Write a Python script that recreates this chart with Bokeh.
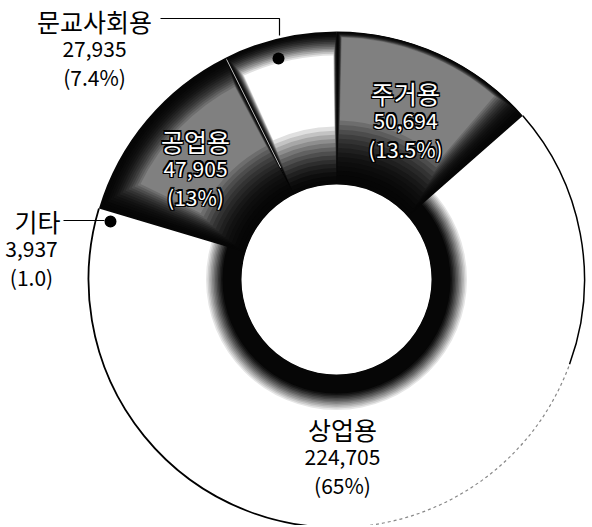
import math
from bokeh.plotting import figure
from bokeh.models import Range1d
from bokeh.core.properties import value
from bokeh.embed import file_html
from bokeh.resources import INLINE

# ---- data ----
categories = ["주거용", "문교사회용", "공업용", "기타", "상업용"]
values = [50694, 27935, 47905, 3937, 224705]
pcts = [13.5, 7.4, 13.0, 1.0, 65.0]
pct_labels = ["(13.5%)", "(7.4%)", "(13%)", "(1.0)", "(65%)"]

W, H = 590, 525
PH = 527  # data y = PH - picture y


def Y(py):
    return PH - py


def rad(d):
    return math.radians(d)


p = figure(width=W, height=H, output_backend="svg", toolbar_location=None,
           x_range=Range1d(0, W), y_range=Range1d(PH - H, PH),
           x_axis_location=None, y_axis_location=None, min_border=0,
           background_fill_color="white", border_fill_color="white")
p.outline_line_color = None
p.xgrid.visible = False
p.ygrid.visible = False

CX, CY = 336, Y(279)
R_IN, R_OUT = 95, 248
START = 41.3

# angles from percentages
angles = []
a = START
for pc in pcts:
    span = pc / 100.0 * 360.0
    angles.append((a, a + span))
    a += span

FONT = value("Noto Sans CJK KR")


def mix(c1, c2, t):
    return "#%02x%02x%02x" % tuple(int(round(c1[i] + (c2[i] - c1[i]) * t)) for i in range(3))


BLACK = (6, 6, 6)
WHITE = (255, 255, 255)
GRAY = (128, 128, 128)

# base white for 상업용 / 기타
for i in (3, 4):
    a0, a1 = angles[i]
    p.annular_wedge(x=CX, y=CY, inner_radius=R_IN, outer_radius=R_OUT,
                    inner_radius_units="screen", outer_radius_units="screen",
                    start_angle=rad(a0), end_angle=rad(a1),
                    fill_color="white", line_color=None)

# dark ring around the hole (gradient outward)
N = 12
for k in range(N, -1, -1):
    t = k / N
    rr = 114 + t * 18
    col = mix(BLACK, WHITE, t ** 1.2)
    p.annulus(x=CX, y=CY, inner_radius=R_IN, outer_radius=rr,
              inner_radius_units="screen", outer_radius_units="screen",
              fill_color=col, line_color=None)

# shaded segments: target colour, inner inset, outer inset, inset at start side, inset at end side
shade = {0: (GRAY, 64, 6, 28, 4),
         1: (WHITE, 58, 24, 3, 7),
         2: (GRAY, 56, 30, 4, 30)}
NL = 14
for i, (target, ins_in, ins_out, ins_s, ins_e) in shade.items():
    a0, a1 = angles[i]
    expo = 1.8 if target == WHITE else 2.3
    for k in range(NL + 1):
        t = k / NL
        ri = R_IN + t * ins_in
        ro = R_OUT - t * ins_out
        rm = (ri + ro) / 2
        da0 = math.degrees(t * ins_s / rm)
        da1 = math.degrees(t * ins_e / rm)
        col = mix(BLACK, target, t ** expo)
        p.annular_wedge(x=CX, y=CY, inner_radius=ri, outer_radius=ro,
                        inner_radius_units="screen", outer_radius_units="screen",
                        start_angle=rad(a0 + da0), end_angle=rad(a1 - da1),
                        fill_color=col, line_color=None)

# faint boundary line between 문교사회용 and 공업용
ab = rad(angles[1][1])
p.line(x=[CX + 125 * math.cos(ab), CX + 246 * math.cos(ab)],
       y=[CY + 125 * math.sin(ab), CY + 246 * math.sin(ab)],
       line_color="#b8b8b8", line_width=1)

# outer outline
p.arc(x=CX, y=CY, radius=R_OUT, radius_units="screen", start_angle=rad(angles[2][1]),
      end_angle=rad(275), line_color="black", line_width=1.8)
p.arc(x=CX, y=CY, radius=R_OUT, radius_units="screen", start_angle=rad(275),
      end_angle=rad(340), line_color="#888888", line_width=1.2, line_dash="3 3")
p.arc(x=CX, y=CY, radius=R_OUT, radius_units="screen", start_angle=rad(340),
      end_angle=rad(angles[0][0] + 360), line_color="black", line_width=1.5)

# hole
p.circle(x=CX, y=CY, radius=R_IN, radius_units="screen", fill_color="white", line_color=None)

# ---- labels ----
val_labels = [f"{v:,}" for v in values]
label_pos = {0: (405, 92, "white"), 2: (195, 140, "white"),
             4: (342, 428, "black"), 1: (94, 20, "black"), 3: (37, 220, "black")}
LS = 28


def draw_text(x, y, s, color, size="22px", align="center"):
    if color == "white":
        for dx, dy in [(-1, 0), (1, 0), (0, -1), (0, 1), (-1, -1), (1, 1), (-1, 1), (1, -1)]:
            p.text(x=[x], y=[y], text=[s], text_align=align, text_baseline="middle",
                   text_font=FONT, text_font_size=size, text_color="black",
                   x_offset=dx * 1.3, y_offset=dy * 1.3)
    p.text(x=[x], y=[y], text=[s], text_align=align, text_baseline="middle",
           text_font=FONT, text_font_size=size, text_color=color)


for i, (lx, ly, col) in label_pos.items():
    lines = [categories[i], val_labels[i], pct_labels[i]]
    xs = [lx, lx, lx]
    if i == 3:
        xs = [37, 31, 31]
    for j, s in enumerate(lines):
        draw_text(xs[j], Y(ly + j * LS), s, col, size="25px" if j == 0 else "21px")

# leader lines & dots
p.line(x=[160, 279, 279], y=[Y(18), Y(18), Y(35)], line_color="black", line_width=1.2)
p.scatter(x=[278], y=[Y(58)], size=12, marker="circle", fill_color="black", line_color=None)
p.line(x=[63, 104], y=[Y(220), Y(220)], line_color="black", line_width=1.2)
p.scatter(x=[110], y=[Y(221)], size=12, marker="circle", fill_color="black", line_color=None)

open("out.html", "w").write(file_html(p, INLINE))
